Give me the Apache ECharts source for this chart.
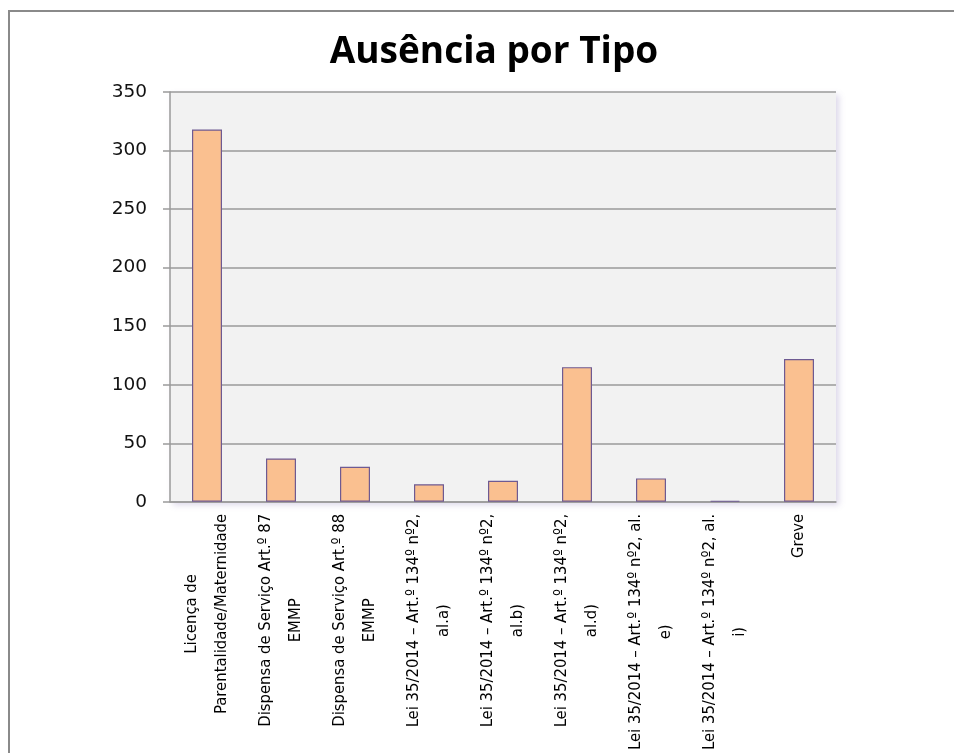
<!DOCTYPE html>
<html>
<head>
<meta charset="utf-8">
<script src="https://cdn.jsdelivr.net/npm/echarts@6/dist/echarts.min.js"></script>
<style>
  html, body { margin: 0; padding: 0; background: #fff; }
  #chart { width: 954px; height: 753px; }
</style>
</head>
<body>
<div id="chart"></div>
<script>
// dados do gráfico
const categories = [
  'Licença de\nParentalidade/Maternidade',
  'Dispensa de Serviço Art.º 87\nEMMP',
  'Dispensa de Serviço Art.º 88\nEMMP',
  'Lei 35/2014 – Art.º 134º nº2,\nal.a)',
  'Lei 35/2014 – Art.º 134º nº2,\nal.b)',
  'Lei 35/2014 – Art.º 134º nº2,\nal.d)',
  'Lei 35/2014 – Art.º 134º nº2, al.\ne)',
  'Lei 35/2014 – Art.º 134º nº2, al.\ni)',
  'Greve'
];
const ausencias = [318, 37, 30, 15, 18, 115, 20, 1, 122];
const yTicks = { min: 0, max: 350, interval: 50 };

const labelFont = '"Liberation Sans Narrow", "DejaVu Sans Condensed", sans-serif';

const myChart = echarts.init(document.getElementById('chart'));

myChart.setOption({
  backgroundColor: '#ffffff',
  animation: false,
  // moldura do gráfico
  graphic: [{
    type: 'polyline',
    silent: true,
    shape: { points: [[9, 753], [9, 11], [954, 11]] },
    style: { stroke: '#8a8a8a', lineWidth: 2, fill: null }
  }],
  title: {
    text: 'Ausência por Tipo',
    left: 489,
    top: 29,
    textAlign: 'center',
    textStyle: {
      fontFamily: '"Open Sans", sans-serif',
      fontWeight: 'bold',
      fontSize: 37,
      color: '#000'
    }
  },
  grid: {
    left: 170,
    right: 118,
    top: 92,
    bottom: 251,
    show: true,
    backgroundColor: '#f2f2f2',
    borderWidth: 0,
    shadowColor: 'rgba(120, 100, 170, 0.25)',
    shadowBlur: 6,
    shadowOffsetX: 3,
    shadowOffsetY: 3
  },
  xAxis: {
    type: 'category',
    data: categories,
    axisLine: { lineStyle: { color: '#9a9a9a', width: 1.5 } },
    axisTick: { length: 6, lineStyle: { color: '#9a9a9a', width: 1.5 } },
    axisLabel: {
      interval: 0,
      rotate: 90,
      margin: 12,
      color: '#000',
      formatter: v => v.split('\n').map(s => '{a|' + s + '}').join('\n'),
      rich: {
        a: {
          align: 'center',
          fontFamily: labelFont,
          fontSize: 16.5,
          lineHeight: 30,
          color: '#000'
        }
      }
    }
  },
  yAxis: {
    type: 'value',
    min: yTicks.min,
    max: yTicks.max,
    interval: yTicks.interval,
    axisLine: { show: true, lineStyle: { color: '#9a9a9a', width: 1.5 } },
    axisTick: { show: true, length: 7, lineStyle: { color: '#9a9a9a', width: 1.5 } },
    splitLine: { lineStyle: { color: '#9a9a9a', width: 1.5 } },
    axisLabel: {
      margin: 23,
      fontFamily: '"DejaVu Sans", sans-serif',
      fontSize: 18.5,
      color: '#111'
    }
  },
  series: [{
    type: 'bar',
    data: ausencias,
    barWidth: 30,
    itemStyle: {
      color: '#fac090',
      borderColor: '#6e5a92',
      borderWidth: 1.2
    }
  }]
});
</script>
</body>
</html>
